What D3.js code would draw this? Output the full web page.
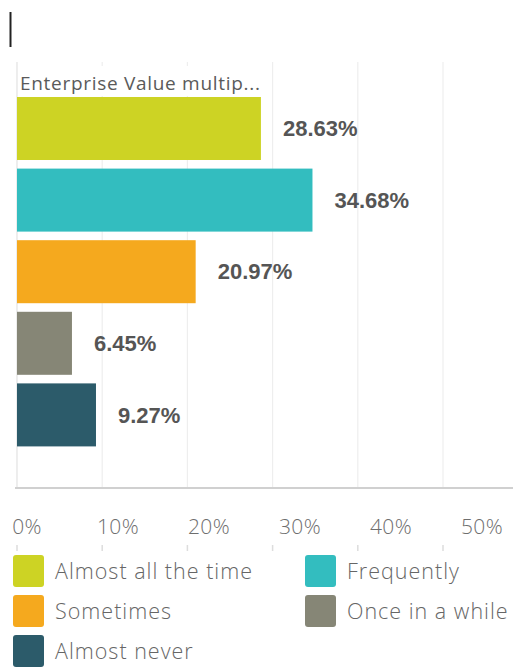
<!DOCTYPE html>
<html><head><meta charset="utf-8">
<script src="https://cdn.jsdelivr.net/npm/d3@7"></script>
<style>body{margin:0;background:#fff}svg{display:block}</style>
</head><body>
<script>
const title = "Enterprise Value multip...";
const categories = ["Almost all the time","Frequently","Sometimes","Once in a while","Almost never"];
const values = [28.63, 34.68, 20.97, 6.45, 9.27];
const colors = ["#cdd324","#33bdbf","#f5a91e","#868676","#2c5b6a"];
const tickValues = [0,10,20,30,40,50];
const tickLabels = ["0%","10%","20%","30%","40%","50%"];

const W=513,H=669;
const svg=d3.select("body").append("svg").attr("width",W).attr("height",H);

const x=d3.scaleLinear().domain([0,50]).range([17,443]);
const xl=d3.scaleLinear().domain([0,50]).range([27,482]);
const y=d3.scaleBand().domain(categories).range([92.7,450.7]).paddingInner(0.12).paddingOuter(0.06);

// cursor bar
svg.append("line").attr("x1",10.5).attr("x2",10.5).attr("y1",12).attr("y2",47).attr("stroke","#222").attr("stroke-width",2);

// gridlines
svg.append("g").selectAll("line").data(tickValues).join("line")
  .attr("x1",d=>x(d)).attr("x2",d=>x(d)).attr("y1",62).attr("y2",488)
  .attr("stroke",d=>d===0?"#e2e2e2":"#eeeeee").attr("stroke-width",1.2);

// title
svg.append("rect").attr("x",18).attr("y",66).attr("width",250).attr("height",30).attr("fill","#fff");
svg.append("text").attr("x",20).attr("y",90).text(title)
  .attr("font-family","Open Sans").attr("font-size",19).attr("letter-spacing",0.7).attr("fill","#5a5a5a");

// bars
svg.append("g").selectAll("rect").data(categories).join("rect")
  .attr("x",x(0)).attr("y",d=>y(d)).attr("width",(d,i)=>x(values[i])-x(0)).attr("height",y.bandwidth())
  .attr("fill",(d,i)=>colors[i]);

// value labels
svg.append("g").selectAll("text").data(categories).join("text")
  .attr("x",(d,i)=>x(values[i])+22).attr("y",d=>y(d)+y.bandwidth()/2).attr("dy","0.35em")
  .text((d,i)=>values[i].toFixed(2)+"%")
  .attr("font-family","Liberation Sans").attr("font-weight","bold").attr("font-size",22).attr("fill","#555");

// axis baseline
svg.append("line").attr("x1",15).attr("x2",513).attr("y1",488).attr("y2",488).attr("stroke","#d0d0d0").attr("stroke-width",2);

// tick labels
svg.append("g").selectAll("text").data(tickValues).join("text")
  .attr("x",d=>xl(d)).attr("y",534).attr("text-anchor","middle")
  .text((d,i)=>tickLabels[i])
  .attr("font-family","Open Sans").attr("font-weight",300).attr("font-size",21).attr("letter-spacing",0.4).attr("fill","#6e6e6e");
svg.append("g").selectAll("line").data(tickValues).join("line")
  .attr("x1",d=>x(d)).attr("x2",d=>x(d)).attr("y1",545).attr("y2",551)
  .attr("stroke","#dddddd").attr("stroke-width",1.5);

// legend
const legX=[13,305], legY=[555,595,635];
const lg=svg.append("g").selectAll("g").data(categories).join("g")
  .attr("transform",(d,i)=>`translate(${legX[i%2]},${legY[Math.floor(i/2)]})`);
lg.append("rect").attr("width",31).attr("height",32).attr("rx",3).attr("fill",(d,i)=>colors[i]);
lg.append("text").attr("x",42).attr("y",16).attr("dy","0.35em").text(d=>d)
  .attr("font-family","Open Sans").attr("font-weight",300).attr("font-size",21.5).attr("letter-spacing",1.0).attr("fill","#666");
</script>
</body></html>
